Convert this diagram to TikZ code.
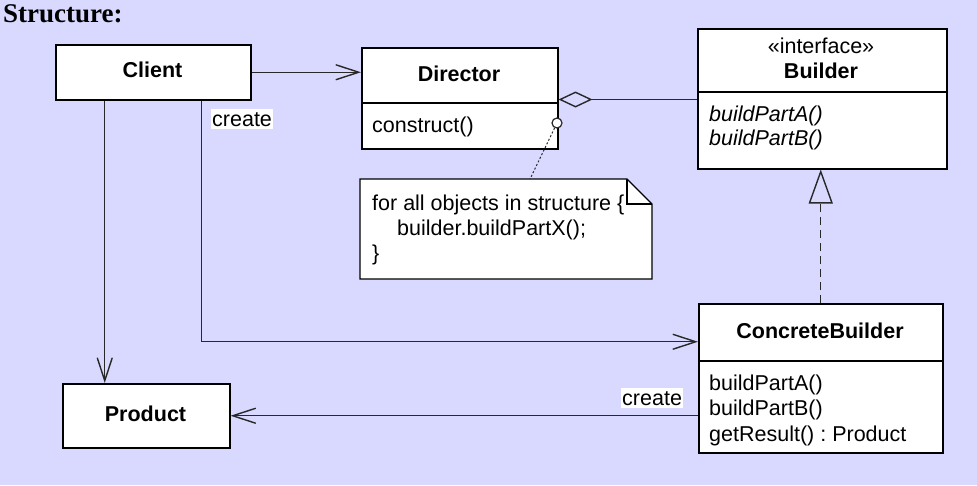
\documentclass[tikz,border=0pt]{standalone}
\usepackage{fontspec}
\setmainfont{Liberation Sans}
\newfontfamily\titlefont{Liberation Serif}
\usetikzlibrary{arrows.meta}
\definecolor{bgcol}{RGB}{217,217,255}
\definecolor{linecol}{RGB}{40,40,40}
\newcommand\umlfs{\fontsize{21.5pt}{25pt}\selectfont\frenchspacing}
\begin{document}
\begin{tikzpicture}[x=1pt,y=-1pt,
  font=\umlfs,
  box/.style={draw=black, line width=1.5pt, fill=white, inner sep=0pt, anchor=north west},
  conn/.style={draw=linecol, line width=1.4pt},
  opentip/.style={-{Straight Barb[length=23pt,width=15pt,line width=1.4pt]}},
  txt/.style={anchor=base west, inner sep=0pt},
  ctxt/.style={anchor=base, inner sep=0pt},
  bold/.style={font=\umlfs\bfseries},
  ital/.style={font=\umlfs\itshape},
  lbl/.style={anchor=base west, fill=white, inner xsep=1pt, inner ysep=3pt}]
\path[use as bounding box, fill=bgcol] (0,0) rectangle (977,485);

% title
\node[txt, font=\titlefont\bfseries\fontsize{27pt}{30pt}\selectfont] (title) at (3,22) {Structure:};

% Client
\node[box, minimum width=195pt, minimum height=55pt] (client) at (55,44) {};
\node[ctxt, bold] (clientname) at (152.5,77) {Client};

% Director
\node[box, minimum width=196pt, minimum height=55pt] (dirhead) at (361,47) {};
\node[box, minimum width=196pt, minimum height=46pt] (dirbody) at (361,102) {};
\node[ctxt, bold] (dirname) at (459,81) {Director};
\node[txt] (construct) at (372,132) {construct()};

% Builder
\node[box, minimum width=249pt, minimum height=63pt] (builderhead) at (697,28) {};
\node[box, minimum width=249pt, minimum height=77pt] (builderbody) at (697,91) {};
\node[ctxt] (stereo) at (821,53) {«interface»};
\node[ctxt, bold] (buildername) at (821,78) {Builder};
\node[txt, ital] (ba) at (709,121) {buildPartA()};
\node[txt, ital] (bb) at (709,145) {buildPartB()};

% ConcreteBuilder
\node[box, minimum width=244pt, minimum height=57pt] (cbhead) at (698,303) {};
\node[box, minimum width=244pt, minimum height=92pt] (cbbody) at (698,360) {};
\node[ctxt, bold] (cbname) at (820,338) {ConcreteBuilder};
\node[txt] (cba) at (709,390) {buildPartA()};
\node[txt] (cbb) at (709,415.5) {buildPartB()};
\node[txt] (cbc) at (709,441) {getResult() : Product};

% Product
\node[box, minimum width=167pt, minimum height=64pt] (product) at (62,383) {};
\node[ctxt, bold] (productname) at (145.5,421) {Product};

% Note
\coordinate (n1) at (360,179);
\coordinate (n2) at (627,179);
\coordinate (n3) at (652,204);
\coordinate (n4) at (652,279);
\coordinate (n5) at (360,279);
\coordinate (nf) at (627,204);
\coordinate (notetop) at (530,179);
\draw[line width=1.4pt, fill=white] (n1) -- (n2) -- (n3) -- (n4) -- (n5) -- cycle;
\draw[line width=1.4pt] (n2) -- (nf) -- (n3);
\node[txt] (note1) at (372,210) {for all objects in structure \{};
\node[txt] (note2) at (397,235) {builder.buildPartX();};
\node[txt] (note3) at (372,260) {\}};

% note anchor circle and dotted link
\node[circle, draw=linecol, fill=white, line width=1.2pt, minimum size=10pt, inner sep=0pt] (dot) at (557,123) {};
\draw[linecol, line width=1pt, dash pattern=on 2pt off 2pt] (dot) -- (notetop);

% Client -> Director
\draw[conn, opentip] (client.east) -- (client.east -| dirhead.west);

% Director <>- Builder
\coordinate (aggL) at ([yshift=4pt]dirhead.south east);
\draw[conn, {Diamond[open,length=34pt,width=16pt,line width=1.4pt]}-] (aggL) -- (aggL -| builderbody.west);

% Client -> Product
\coordinate (c1) at ([xshift=-48.5pt]client.south);
\draw[conn, opentip] (c1) -- (c1 |- product.north);

% Client -> ConcreteBuilder
\coordinate (c2) at ([xshift=48.5pt]client.south);
\coordinate (c3) at ([yshift=-9.5pt]cbhead.west);
\draw[conn, opentip] (c2) |- (c3);
\node[lbl] (create1) at (211,126) {create};

% ConcreteBuilder -> Product
\draw[conn, opentip] (cbbody.west |- product.east) -- (product.east);
\node[lbl] (create2) at (621,405) {create};

% ConcreteBuilder realizes Builder
\draw[conn, dash pattern=on 8pt off 5pt, -{Triangle[open,length=34pt,width=24pt,line width=1.4pt]}] (cbhead.north) -- (cbhead.north |- builderbody.south);
\end{tikzpicture}
\end{document}
